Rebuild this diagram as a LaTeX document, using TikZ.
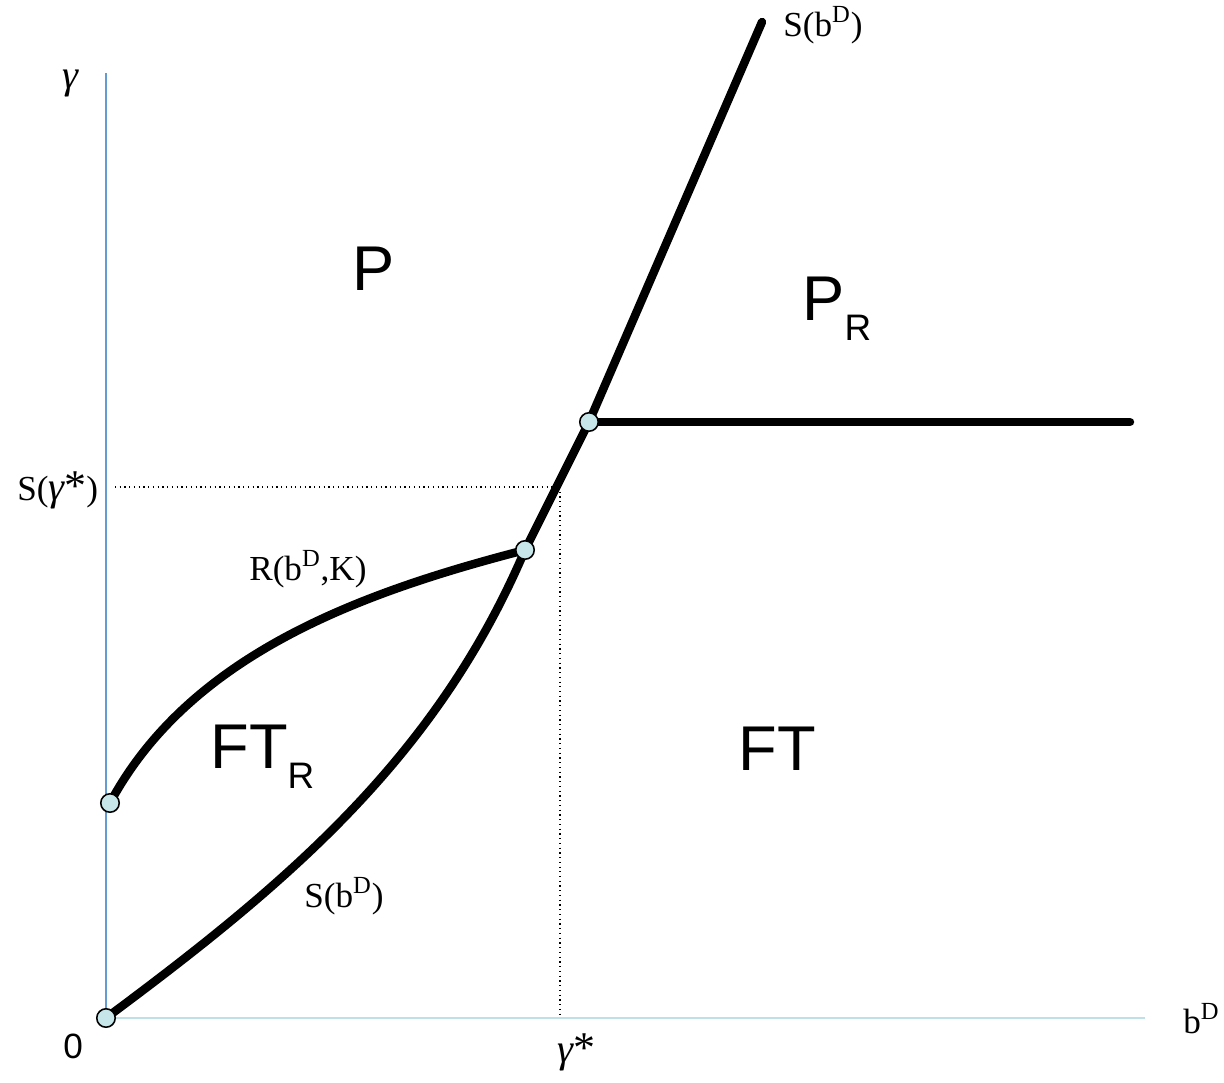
\documentclass[tikz,border=0pt]{standalone}
\usepackage{fontspec}
\setmainfont{Liberation Serif}
\setsansfont{Liberation Sans}
\usetikzlibrary{positioning}
\definecolor{azuleixo}{RGB}{100,155,210}
\definecolor{azulclaro}{RGB}{190,224,230}
\definecolor{pontocor}{RGB}{198,230,234}
\newcommand{\subreg}[1]{\raisebox{-0.32em}{\fontsize{21}{24}\selectfont #1}}
\newcommand{\gam}{{\fontsize{23}{24}\selectfont\itshape γ}}
\newcommand{\estrela}{{\fontsize{25}{24}\selectfont *}}

\begin{document}
\begin{tikzpicture}[x=0.02cm, y=-0.02cm,
    curva/.style={line width=4.8pt, line cap=round, line join=round},
    guia/.style={dotted, line width=0.7pt},
    ponto/.style={circle, draw, line width=0.9pt, fill=pontocor, inner sep=0pt, minimum size=10.5pt},
    rot/.style={font=\fontsize{20}{22}\selectfont, inner sep=0pt, anchor=base west},
    regiao/.style={font=\sffamily\fontsize{36}{40}\selectfont, inner sep=0pt, anchor=base west}
]
\useasboundingbox (0,0) rectangle (1224,1082);

% pontos principais
\coordinate (o) at (106,1018);
\coordinate (r0) at (110,803);
\coordinate (m) at (525,550);
\coordinate (k) at (589,422);
\coordinate (topo) at (762,22);
\coordinate (fim) at (1130,422);
\coordinate (ytopo) at (106,73);
\coordinate (xfim) at (1145,1018);
\coordinate (gs) at (560,487);

% eixos
\draw[azuleixo, line width=1pt] (o) -- (ytopo);
\draw[azulclaro, line width=1.2pt] (o) -- (xfim);

% linhas de referencia
\draw[guia] (115,487) -- (gs);
\draw[guia] (gs) -- (560,1015);

% curvas
\draw[curva] (o) .. controls (285,885) and (436,759) .. (m) -- (k) -- (topo);
\draw[curva] (r0) .. controls (191,652) and (367,591) .. (m);
\draw[curva] (k) -- (fim);

\node[ponto] (po) at (o) {};
\node[ponto] (pr) at (r0) {};
\node[ponto] (pm) at (m) {};
\node[ponto] (pk) at (k) {};

% rotulos
\node[rot] (lgama) at (62,88) {\gam};
\node[rot] (lsg) at (17,500) {S(\gam\estrela)};
\node[rot] (lr) at (249,580) {R(b\textsuperscript{D},K)};
\node[rot] (ls1) at (783,36) {S(b\textsuperscript{D})};
\node[rot] (ls2) at (304,907) {S(b\textsuperscript{D})};
\node[rot] (lgs) at (557,1062) {\gam\estrela};
\node[rot] (lb) at (1183,1033) {b\textsuperscript{D}};
\node[rot, font=\sffamily\fontsize{20}{22}\selectfont] (lzero) at (63,1058) {0};

\node[regiao] (rp) at (352,290) {P};
\node[regiao] (rpr) at (802,320) {P\subreg{R}};
\node[regiao] (rftr) at (210,768) {FT\subreg{R}};
\node[regiao] (rft) at (738,770) {FT};
\end{tikzpicture}
\end{document}
